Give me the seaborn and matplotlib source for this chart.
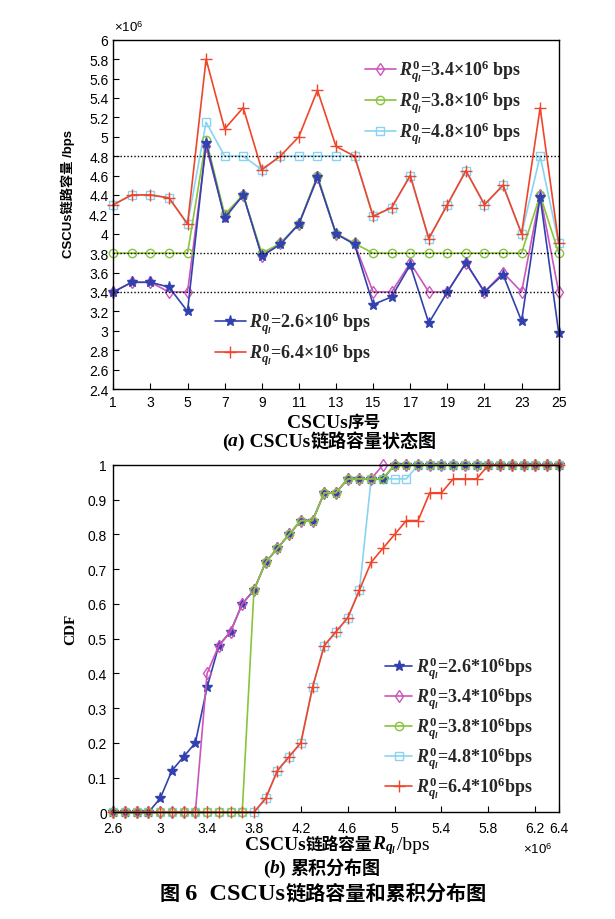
import numpy as np
import pandas as pd
import matplotlib
matplotlib.use("Agg")
import matplotlib.pyplot as plt
import seaborn as sns
from matplotlib.offsetbox import TextArea, HPacker, AnchoredOffsetbox
from matplotlib.ticker import FuncFormatter

# ---------------- data (link capacities in units of 10^6 bps) ----------------
cscu_ids = list(range(1, 26))
cap_r26 = [3.40, 3.50, 3.50, 3.45, 3.20, 4.94, 4.16, 4.40, 3.77, 3.89, 4.10, 4.58, 4.00,
           3.89, 3.27, 3.35, 3.68, 3.08, 3.40, 3.70, 3.40, 3.58, 3.10, 4.38, 2.98]
cap_r34 = [3.40, 3.50, 3.50, 3.40, 3.40, 4.90, 4.18, 4.40, 3.77, 3.90, 4.10, 4.58, 4.00,
           3.90, 3.40, 3.40, 3.70, 3.40, 3.40, 3.70, 3.40, 3.60, 3.40, 4.40, 3.40]
cap_r38 = [3.80, 3.80, 3.80, 3.80, 3.80, 4.97, 4.20, 4.40, 3.80, 3.90, 4.10, 4.60, 4.00,
           3.90, 3.80, 3.80, 3.80, 3.80, 3.80, 3.80, 3.80, 3.80, 3.80, 4.40, 3.80]
cap_r48 = [4.30, 4.40, 4.40, 4.37, 4.10, 5.15, 4.80, 4.80, 4.66, 4.80, 4.80, 4.80, 4.80,
           4.80, 4.18, 4.27, 4.60, 3.95, 4.30, 4.65, 4.30, 4.50, 4.00, 4.80, 3.90]
cap_r64 = [4.30, 4.40, 4.40, 4.37, 4.10, 5.80, 5.08, 5.30, 4.66, 4.80, 5.00, 5.48, 4.90,
           4.80, 4.18, 4.27, 4.60, 3.95, 4.30, 4.65, 4.30, 4.50, 4.00, 5.30, 3.90]
ref_levels = [3.4, 3.8, 4.8]

rate_names = ["2.6", "3.4", "3.8", "4.8", "6.4"]
top_labels = [r"$R_{q_l}^{0}$=%s×10$^{6}$ bps" % r for r in rate_names]
cdf_labels = [r"$R_{q_l}^{0}$=%s*10$^{6}$bps" % r for r in rate_names]

# CDF evaluation grid (×10^6 bps)
cdf_grid = np.round(np.linspace(2.6, 6.4, 39), 1)

top_xticks = [1, 3, 5, 7, 9, 11, 13, 15, 17, 19, 21, 23, 25]
top_yticks = [2.4, 2.6, 2.8, 3, 3.2, 3.4, 3.6, 3.8, 4, 4.2, 4.4, 4.6, 4.8, 5,
              5.2, 5.4, 5.6, 5.8, 6]
cdf_xticks = [2.6, 3, 3.4, 3.8, 4.2, 4.6, 5, 5.4, 5.8, 6.2, 6.4]
cdf_yticks = [0, 0.1, 0.2, 0.3, 0.4, 0.5, 0.6, 0.7, 0.8, 0.9, 1]

# ---------------- styling ----------------
sns.set_theme(style="white")
plt.rcParams.update({
    "font.family": ["Liberation Serif", "Noto Sans CJK SC"],
    "mathtext.fontset": "custom",
    "mathtext.rm": "Liberation Serif:bold",
    "mathtext.it": "Liberation Serif:italic:bold",
    "mathtext.bf": "Liberation Serif:bold",
    "mathtext.sf": "Liberation Sans",
    "axes.edgecolor": "black",
    "axes.linewidth": 1.0,
    "xtick.bottom": True,
    "ytick.left": True,
})

colors = {"2.6": "#3142b0", "3.4": "#cc55bb", "3.8": "#88c43c",
          "4.8": "#88d4f2", "6.4": "#f0452a"}
markers = {"2.6": dict(marker="*", ms=8, mfc=colors["2.6"]),
           "3.4": dict(marker="d", ms=6, mfc="none"),
           "3.8": dict(marker="o", ms=6, mfc="none"),
           "4.8": dict(marker="s", ms=6, mfc="none"),
           "6.4": dict(marker="+", ms=8, mfc="none")}
series = {"2.6": cap_r26, "3.4": cap_r34, "3.8": cap_r38, "4.8": cap_r48, "6.4": cap_r64}

W, H = 615, 920
fig = plt.figure(figsize=(W / 100, H / 100), dpi=100)


def fig_box(left, top, right, bottom):
    return [left / W, 1 - bottom / H, (right - left) / W, (bottom - top) / H]


ax1 = fig.add_axes(fig_box(113.3, 40.7, 558.7, 390))
ax2 = fig.add_axes(fig_box(113.3, 466, 558.7, 813.3))

fmt = FuncFormatter(lambda v, p: f"{v:g}")


def draw(ax, key, x, y, label):
    m = markers[key]
    sns.lineplot(x=x, y=y, ax=ax, color=colors[key], lw=1.2, marker=m["marker"],
                 markersize=m["ms"], mfc=m["mfc"], mec=colors[key], mew=1.0,
                 sort=False, errorbar=None, legend=False, clip_on=False)
    line = ax.lines[-1]
    line.set_label(label)
    return line


# ---------------- top panel: link capacity per CSCU ----------------
handles1 = {}
for key in ["4.8", "3.4", "3.8", "2.6", "6.4"]:
    handles1[key] = draw(ax1, key, cscu_ids, series[key], top_labels[rate_names.index(key)])
for lvl in ref_levels:
    ax1.axhline(lvl, color="black", ls=(0, (1, 1.5)), lw=1.0, zorder=5)

ax1.set_xlim(1, 25)
ax1.set_ylim(2.4, 6)
ax1.set_xticks(top_xticks)
ax1.set_yticks(top_yticks)
ax1.yaxis.set_major_formatter(fmt)

leg_prop = dict(family="Liberation Serif", weight="bold", size=13)
lg1 = ax1.legend(handles=[handles1[k] for k in ["3.4", "3.8", "4.8"]],
                 loc="upper left", bbox_to_anchor=(365 / W, 1 - 59 / H),
                 bbox_transform=fig.transFigure, frameon=False, borderpad=0,
                 borderaxespad=0, handlelength=1.7, handletextpad=0.2,
                 labelspacing=0.2, prop=leg_prop)
ax1.add_artist(lg1)
ax1.legend(handles=[handles1[k] for k in ["2.6", "6.4"]],
           loc="upper left", bbox_to_anchor=(215 / W, 1 - 311 / H),
           bbox_transform=fig.transFigure, frameon=False, borderpad=0,
           borderaxespad=0, handlelength=1.7, handletextpad=0.2,
           labelspacing=0.2, prop=leg_prop)

# ---------------- bottom panel: CDF ----------------
def ecdf_on_grid(vals, grid):
    v = np.asarray(vals)
    return np.array([(v <= g + 1e-9).sum() for g in grid]) / len(v)


handles2 = {}
for key in ["4.8", "2.6", "3.4", "3.8", "6.4"]:
    handles2[key] = draw(ax2, key, cdf_grid, ecdf_on_grid(series[key], cdf_grid),
                         cdf_labels[rate_names.index(key)])
ax2.set_xlim(2.6, 6.4)
ax2.set_ylim(0, 1)
ax2.set_xticks(cdf_xticks)
ax2.set_yticks(cdf_yticks)
ax2.xaxis.set_major_formatter(fmt)
ax2.yaxis.set_major_formatter(fmt)
ax2.legend(handles=[handles2[k] for k in rate_names],
           loc="upper left", bbox_to_anchor=(385 / W, 1 - 656 / H),
           bbox_transform=fig.transFigure, frameon=False, borderpad=0,
           borderaxespad=0, handlelength=1.5, handletextpad=0.2,
           labelspacing=0.16, prop=leg_prop)

for ax in (ax1, ax2):
    ax.tick_params(axis="both", direction="in", length=4, width=0.8, color="black",
                   labelsize=10, labelfontfamily="Liberation Sans", labelcolor="black",
                   pad=3.5)
    for sp in ax.spines.values():
        sp.set_color("black")
        sp.set_linewidth(1.0)
    ax.set_xlabel("")
ax1.tick_params(axis="x", pad=4.5)
ax2.tick_params(axis="x", pad=6.5)
ax2.tick_params(axis="y", pad=4.5)

# y labels
ax1.set_ylabel("CSCUs链路容量 /bps", family=["Liberation Sans", "Noto Sans CJK SC"],
               weight="bold", size=9.5, va="center", color="black")
ax1.yaxis.set_label_coords((68 - 113.3) / 445.4, (390 - 193.5) / 349.3)
ax2.set_ylabel("CDF", family="Liberation Serif", weight="bold", size=11,
               va="center", color="black")
ax2.yaxis.set_label_coords((71 - 113.3) / 445.4, (813.3 - 629) / 347.3)

# exponent markers
fig.text(114 / W, 1 - 28 / H, r"×10$^{\mathsf{6}}$", family="Liberation Sans",
         size=9.5, va="center", ha="left", color="black")
fig.text(523 / W, 1 - 850 / H, r"×10$^{\mathsf{6}}$", family="Liberation Sans",
         size=9.5, va="center", ha="left", color="black")

LAT = dict(family="Liberation Serif", weight="bold", size=14, color="black")
LAT_IT = dict(family="Liberation Serif", weight="bold", style="italic", size=14, color="black")
CJK = dict(family="Noto Sans CJK SC", weight="bold", size=13, color="black")


def rich(parts, x, y):
    box = HPacker(children=[TextArea(t, textprops=p) for t, p in parts],
                  align="baseline", pad=0, sep=0)
    ab = AnchoredOffsetbox(loc="center", child=box, pad=0, borderpad=0, frameon=False,
                           bbox_to_anchor=(x / W, 1 - y / H),
                           bbox_transform=fig.transFigure)
    fig.add_artist(ab)


rich([("CSCUs", LAT), ("序号", dict(CJK, size=12))], 334, 423)
rich([("(", LAT), ("a", LAT_IT), (") CSCUs", LAT), ("链路容量状态图", CJK)], 329, 441)
rich([("CSCUs", LAT), ("链路容量", dict(CJK, size=12)),
      (r"$R_{q_l}$", dict(size=14, color="black")), ("/bps", dict(LAT, weight="normal"))],
     337, 846)
rich([("(", LAT), ("b", LAT_IT), (") ", LAT), ("累积分布图", CJK)], 322, 868)
rich([("图", dict(CJK, size=14.5)), (" 6  CSCUs", dict(LAT, size=17.5)),
      ("链路容量和累积分布图", dict(CJK, size=14.5))], 323, 894)

fig.savefig("out.png", dpi=100, facecolor="white")
